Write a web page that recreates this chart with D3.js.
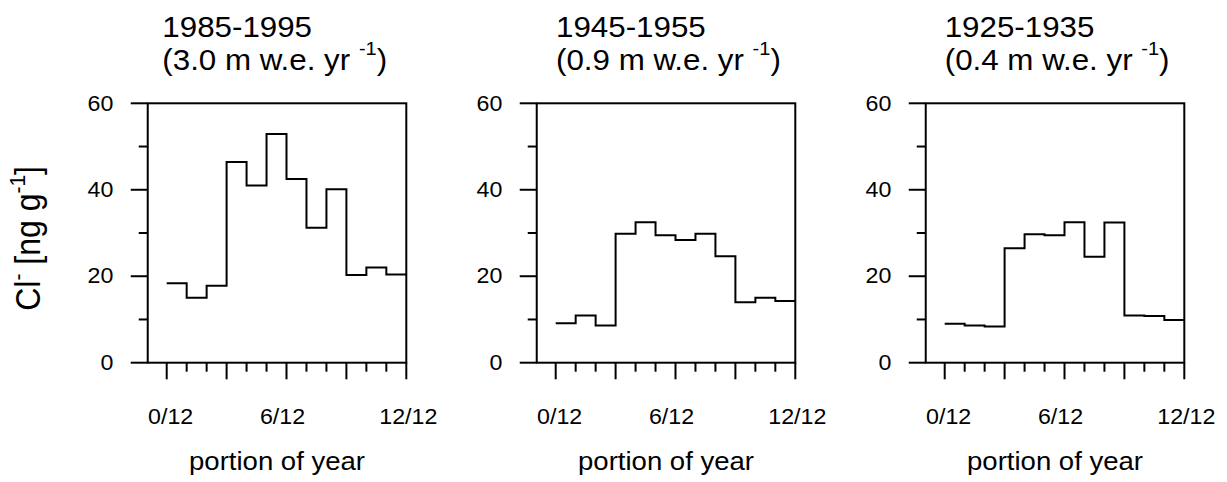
<!DOCTYPE html>
<html>
<head>
<meta charset="utf-8">
<script src="https://cdn.jsdelivr.net/npm/d3@7/dist/d3.min.js"></script>
<style>
  html, body { margin: 0; padding: 0; background: #fff; }
  svg { display: block; font-family: "Liberation Sans", Arial, Helvetica, sans-serif; }
</style>
</head>
<body>
<svg id="chart" width="1227" height="482"></svg>
<script>
// ---- data ----
const months = [0, 1, 2, 3, 4, 5, 6, 7, 8, 9, 10, 11];
const periods = ["1985-1995", "1945-1955", "1925-1935"];
const accumulation = ["3.0", "0.9", "0.4"];
const chloride1985 = [18.4, 15.0, 17.8, 46.4, 41.0, 52.9, 42.5, 31.2, 40.1, 20.3, 22.0, 20.4];
const chloride1945 = [9.1, 10.9, 8.6, 29.8, 32.5, 29.5, 28.4, 29.8, 24.6, 14.0, 15.0, 14.3];
const chloride1925 = [9.0, 8.6, 8.4, 26.5, 29.7, 29.5, 32.5, 24.5, 32.4, 10.9, 10.8, 9.9];
const yMajorTicks = [0, 20, 40, 60];
const yMinorTicks = [10, 30, 50];
const xMajorTicks = [0, 3, 6, 9, 12];
const xMinorTicks = [1, 2, 4, 5, 7, 8, 10, 11];
const xTickLabels = [{ v: 0, t: "0/12" }, { v: 6, t: "6/12" }, { v: 12, t: "12/12" }];
const xLabel = "portion of year";

const series = [chloride1985, chloride1945, chloride1925];

// ---- layout ----
const svg = d3.select("#chart");
const SX = 1.08; // horizontal stretch of the original picture
const panelX0 = [166.7, 555.7, 944.7];   // position of month 0
const titleDx = [-4.4, 0.3, 0];
const monthW = (406.3 - 166.7) / 12;
const yTop = 103.3, yBot = 362.7;
const font = 21.5;

const y = d3.scaleLinear().domain([0, 60]).range([yBot, yTop]);

function hText(g, x, yy, txt, size, anchor) {
  return g.append("text")
    .attr("transform", `translate(${x},${yy}) scale(${SX},1)`)
    .attr("text-anchor", anchor || "start")
    .attr("font-size", size)
    .attr("fill", "#000")
    .text(txt);
}

series.forEach((vals, p) => {
  const x0 = panelX0[p];
  const x = d3.scaleLinear().domain([0, 12]).range([x0, x0 + 12 * monthW]);
  const g = svg.append("g");
  const left = x(-0.95), right = x(12);

  // frame
  g.append("rect")
    .attr("x", left).attr("y", y(60))
    .attr("width", right - left).attr("height", y(0) - y(60))
    .attr("fill", "none").attr("stroke", "#000").attr("stroke-width", 2);

  // y ticks
  yMajorTicks.forEach(v => {
    g.append("line").attr("x1", left - 17).attr("x2", left).attr("y1", y(v)).attr("y2", y(v))
      .attr("stroke", "#000").attr("stroke-width", 2);
    hText(g, left - 34.4, y(v), String(v), font, "end").attr("dominant-baseline", "central");
  });
  yMinorTicks.forEach(v => {
    g.append("line").attr("x1", left - 9).attr("x2", left).attr("y1", y(v)).attr("y2", y(v))
      .attr("stroke", "#000").attr("stroke-width", 2);
  });

  // x ticks
  xMajorTicks.forEach(v => {
    g.append("line").attr("x1", x(v)).attr("x2", x(v)).attr("y1", y(0)).attr("y2", y(0) + 16.6)
      .attr("stroke", "#000").attr("stroke-width", 2);
  });
  xMinorTicks.forEach(v => {
    g.append("line").attr("x1", x(v)).attr("x2", x(v)).attr("y1", y(0)).attr("y2", y(0) + 9)
      .attr("stroke", "#000").attr("stroke-width", 2);
  });
  const lblDx = [4, -4, 2];
  xTickLabels.forEach((d, i) => {
    hText(g, x(d.v) + lblDx[i], 424, d.t, font, "middle");
  });

  hText(g, (left + right) / 2, 470, xLabel, 25.5, "middle");

  // step line
  const pts = months.map((m, i) => [m, vals[i]]).concat([[12, vals[vals.length - 1]]]);
  const line = d3.line().x(d => x(d[0])).y(d => y(d[1])).curve(d3.curveStepAfter);
  g.append("path").attr("d", line(pts))
    .attr("fill", "none").attr("stroke", "#000").attr("stroke-width", 2);

  // title
  const tx = x0 + titleDx[p];
  hText(g, tx, 36.7, periods[p], 29);
  const t2 = hText(g, tx, 70, null, 29);
  t2.append("tspan").text(`(${accumulation[p]} m w.e. yr `);
  t2.append("tspan").attr("font-size", 18.5).attr("dy", -15).text("-1");
  t2.append("tspan").attr("dy", 15).text(")");
});

// y-axis label
const yl = svg.append("text")
  .attr("transform", `translate(39.5,238.4) scale(${SX},1) rotate(-90)`)
  .attr("text-anchor", "middle")
  .attr("font-size", 32)
  .attr("fill", "#000");
yl.append("tspan").text("Cl");
yl.append("tspan").attr("font-size", 21).attr("dy", -13).text("-");
yl.append("tspan").attr("dy", 13).text(" [ng g");
yl.append("tspan").attr("font-size", 21).attr("dy", -13).text("-1");
yl.append("tspan").attr("dy", 13).text("]");
</script>
</body>
</html>
